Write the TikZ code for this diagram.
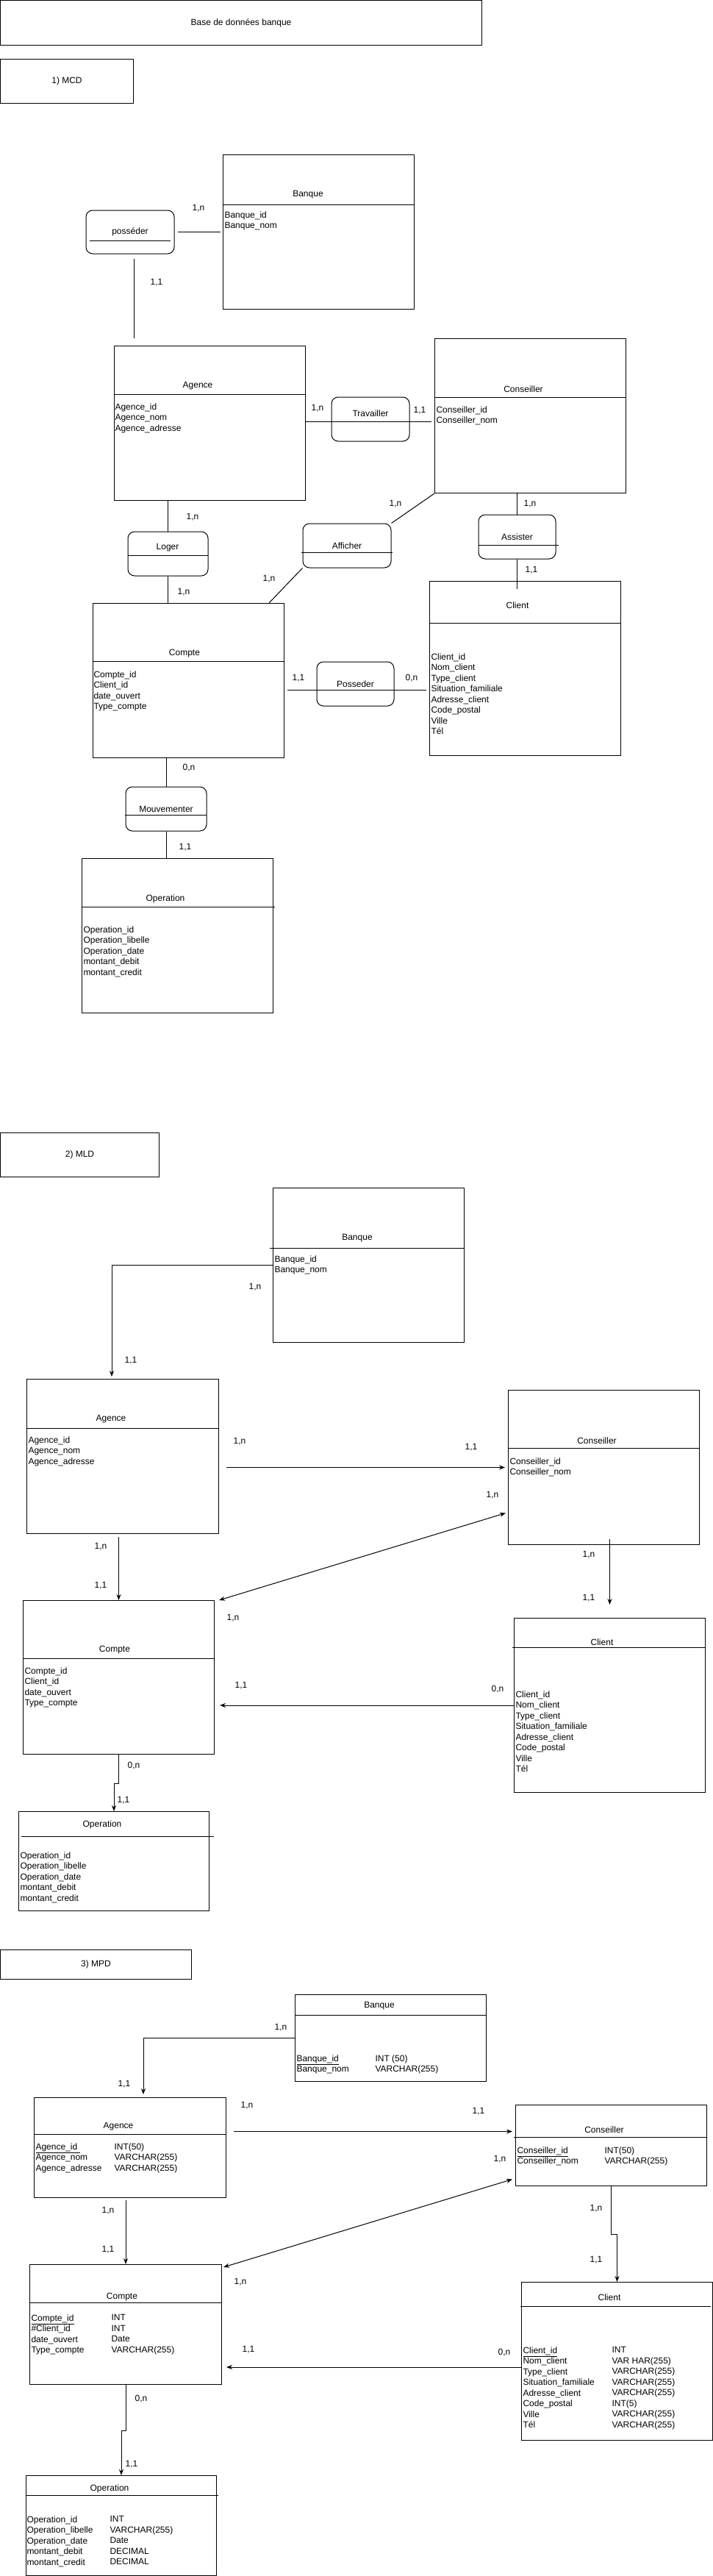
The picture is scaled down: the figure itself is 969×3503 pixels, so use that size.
\documentclass[tikz,border=0pt]{standalone}
\usepackage{fontspec}
\setmainfont{Liberation Sans}
\usetikzlibrary{arrows.meta}

\tikzset{
  entity/.style={draw, anchor=north west, inner sep=0pt},
  assoc/.style={draw, rounded corners=9pt, inner sep=0pt},
  attr/.style={anchor=north west, align=left, inner sep=0pt},
  arr/.style={-{Stealth[length=8pt,width=6pt]}},
  darr/.style={{Stealth[length=8pt,width=6pt]}-{Stealth[length=8pt,width=6pt]}}
}

\begin{document}
\begin{tikzpicture}[x=1pt, y=-1pt, line width=1pt, inner sep=0pt,
    font=\fontsize{12}{14.5}\selectfont]
  \useasboundingbox (0,0) rectangle (969,3503);

  \node[entity, minimum width=655pt, minimum height=61pt] (titre) at (0,0) {Base de données banque};
  \node[entity, minimum width=181pt, minimum height=60pt] (mcd) at (0,80) {1) MCD};

  % MCD
  \node[entity, minimum width=260pt, minimum height=210pt] (bqA) at (303,210) {};
  \draw (303,278) -- (563,278);
  \node (bqAnom) at (419,265) {Banque};
  \node[attr] (bqAatt) at (305,287) {Banque\_id\\Banque\_nom};

  \node[assoc, minimum width=120pt, minimum height=59pt] (poss) at (177,315.5) {posséder};
  \draw (122,327) -- (232,327);

  \node[entity, minimum width=260pt, minimum height=210pt] (agA) at (155,470) {};
  \draw (155,536) -- (415,536);
  \node (agAnom) at (269,525) {Agence};
  \node[attr] (agAatt) at (156,548) {Agence\_id\\Agence\_nom\\Agence\_adresse};

  \node[entity, minimum width=260pt, minimum height=210pt] (csA) at (591,460) {};
  \draw (591,540) -- (851,540);
  \node (csAnom) at (712,529) {Conseiller};
  \node[attr] (csAatt) at (593,552) {Conseiller\_id\\Conseiller\_nom};

  \node[assoc, minimum width=106pt, minimum height=60pt] (trav) at (504,570) {};
  \node (travnom) at (504,562) {Travailler};
  \node[assoc, minimum width=109pt, minimum height=60pt] (loger) at (228.5,753) {};
  \node (logernom) at (228,745) {Loger};
  \draw (174,755) -- (283,755);
  \node[assoc, minimum width=120pt, minimum height=60pt] (aff) at (472,742) {Afficher};
  \draw (410,751) -- (534,751);
  \node[assoc, minimum width=105pt, minimum height=60pt] (assist) at (703.5,730) {Assister};
  \draw (651,741) -- (760,741);

  \node[entity, minimum width=260pt, minimum height=237pt] (clA) at (584,790) {};
  \draw (584,847) -- (844,847);
  \node (clAnom) at (704,823) {Client};
  \node[attr] (clAatt) at (586,888) {Client\_id\\Nom\_client\\Type\_client\\Situation\_familiale\\Adresse\_client\\Code\_postal\\Ville\\Tél};

  \node[entity, minimum width=260pt, minimum height=210pt] (cpA) at (126,820) {};
  \draw (126,899) -- (386,899);
  \node (cpAnom) at (251,889) {Compte};
  \node[attr] (cpAatt) at (127,912) {Compte\_id\\Client\_id\\date\_ouvert\\Type\_compte};

  \node[assoc, minimum width=105pt, minimum height=60pt] (poss2) at (483.5,930) {Posseder};
  \node[assoc, minimum width=110pt, minimum height=60pt] (mouv) at (226,1100) {Mouvementer};
  \draw (170,1108) -- (281,1108);

  \node[entity, minimum width=260pt, minimum height=210pt] (opA) at (111,1167) {};
  \draw (111,1233) -- (374,1233);
  \node (opAnom) at (225,1222) {Operation};
  \node[attr] (opAatt) at (113,1259) {Operation\_id\\Operation\_libelle\\Operation\_date\\montant\_debit\\montant\_credit};

  \draw[shorten <=4pt, shorten >=3pt] (poss) -- (bqA);
  \draw[shorten <=6pt, shorten >=10pt] ([xshift=5pt]poss.south) -- ([xshift=5pt]poss.south |- agA.north);
  \draw ([yshift=-3pt]agA.east |- trav.center) -- ([xshift=-4pt,yshift=-3pt]csA.west |- trav.center);
  \draw (loger.north |- agA.south) -- (loger.north);
  \draw (loger.south) -- (loger.south |- cpA.north);
  \draw (aff.north east) -- (csA.south west);
  \draw (aff.south west) -- ([xshift=-21pt]cpA.north east);
  \draw (assist.north |- csA.south) -- (assist.north);
  \draw (assist.south) -- ([yshift=-11pt]assist.south |- clA.north);
  \draw[shorten <=4pt, shorten >=4pt] ([yshift=-8pt]cpA.east |- poss2.center) -- ([yshift=-8pt]clA.west |- poss2.center);
  \draw (mouv.north |- cpA.south) -- (mouv.north);
  \draw (mouv.south) -- (mouv.south |- opA.north);

  \node (ca1) at (270,283) {1,n};
  \node (ca2) at (213,384) {1,1};
  \node (ca3) at (432,555) {1,n};
  \node (ca4) at (571,558) {1,1};
  \node (ca5) at (262,703) {1,n};
  \node (ca6) at (250,805) {1,n};
  \node (ca7) at (538,685) {1,n};
  \node (ca8) at (366,787) {1,n};
  \node (ca9) at (721,685) {1,n};
  \node (ca10) at (723,775) {1,1};
  \node (ca11) at (406,922) {1,1};
  \node (ca12) at (560,922) {0,n};
  \node (ca13) at (257,1044) {0,n};
  \node (ca14) at (252,1152) {1,1};

  % MLD
  \node[entity, minimum width=216pt, minimum height=60pt] (mld) at (0,1540) {2) MLD};

  \node[entity, minimum width=260pt, minimum height=210pt] (bqB) at (371,1615) {};
  \draw (367,1697) -- (632,1697);
  \node (bqBnom) at (486,1684) {Banque};
  \node[attr] (bqBatt) at (373,1707) {Banque\_id\\Banque\_nom};

  \node[entity, minimum width=261pt, minimum height=210pt] (agB) at (36,1875) {};
  \draw (36,1942) -- (297,1942);
  \node (agBnom) at (151,1930) {Agence};
  \node[attr] (agBatt) at (38,1953) {Agence\_id\\Agence\_nom\\Agence\_adresse};

  \node[entity, minimum width=260pt, minimum height=210pt] (csB) at (691,1890) {};
  \draw (691,1969) -- (951,1969);
  \node (csBnom) at (812,1959) {Conseiller};
  \node[attr] (csBatt) at (693,1982) {Conseiller\_id\\Conseiller\_nom};

  \node[entity, minimum width=260pt, minimum height=209pt] (cpB) at (31,2176) {};
  \draw (31,2255) -- (291,2255);
  \node (cpBnom) at (156,2244) {Compte};
  \node[attr] (cpBatt) at (33,2267) {Compte\_id\\Client\_id\\date\_ouvert\\Type\_compte};

  \node[entity, minimum width=260pt, minimum height=237pt] (clB) at (699,2200) {};
  \draw (697,2240) -- (959,2240);
  \node (clBnom) at (819,2233) {Client};
  \node[attr] (clBatt) at (701,2299) {Client\_id\\Nom\_client\\Type\_client\\Situation\_familiale\\Adresse\_client\\Code\_postal\\Ville\\Tél};

  \node[entity, minimum width=259pt, minimum height=135pt] (opB) at (25,2463) {};
  \draw (29,2497) -- (291,2497);
  \node (opBnom) at (139,2481) {Operation};
  \node[attr] (opBatt) at (27,2518) {Operation\_id\\Operation\_libelle\\Operation\_date\\montant\_debit\\montant\_credit};

  \draw[arr] (bqB.west) -| ([xshift=-15pt,yshift=3pt]agB.north);
  \draw[arr] ([xshift=10pt]agB.east |- csB.west) -- ([xshift=-4pt]csB.west);
  \draw[darr] ([shift={(-3,62)}]csB.west) -- ([xshift=6pt]cpB.north east);
  \draw[arr] ([yshift=-4pt]cpB.north |- agB.south) -- (cpB.north);
  \draw[arr] ([yshift=8pt]clB.north |- csB.south) -- ([yshift=18pt]clB.north);
  \draw[arr] (clB.west) -- ([xshift=7pt]cpB.east |- clB.west);
  \draw[arr] (cpB.south) -- ++(0,39) -| (opB.north);

  \node (cb1) at (347,1750) {1,n};
  \node (cb2) at (178,1850) {1,1};
  \node (cb3) at (326,1960) {1,n};
  \node (cb4) at (641,1968) {1,1};
  \node (cb5) at (670,2033) {1,n};
  \node (cb6) at (317,2200) {1,n};
  \node (cb7) at (137,2103) {1,n};
  \node (cb8) at (137,2156) {1,1};
  \node (cb9) at (801,2114) {1,n};
  \node (cb10) at (801,2173) {1,1};
  \node (cb11) at (328,2292) {1,1};
  \node (cb12) at (677,2297) {0,n};
  \node (cb13) at (182,2401) {0,n};
  \node (cb14) at (168,2448) {1,1};

  % MPD
  \node[entity, minimum width=260pt, minimum height=40pt] (mpd) at (0,2651) {3) MPD};

  \node[entity, minimum width=260pt, minimum height=118pt] (bqC) at (401,2712) {};
  \draw (401,2740) -- (661,2740);
  \node (bqCnom) at (516,2728) {Banque};
  \node[attr] (bqCatt) at (403,2794) {\underline{Banque\_id}\\Banque\_nom};
  \node[attr] (bqCtyp) at (510,2794) {INT (50)\\VARCHAR(255)};

  \node[entity, minimum width=261pt, minimum height=136pt] (agC) at (46,2852) {};
  \draw (46,2902) -- (307,2902);
  \node (agCnom) at (161,2892) {Agence};
  \node[attr] (agCatt) at (48,2914) {\underline{Agence\_id\ }\\Agence\_nom\\Agence\_adresse};
  \node[attr] (agCtyp) at (155,2914) {INT(50)\\VARCHAR(255)\\VARCHAR(255)};

  \node[entity, minimum width=260pt, minimum height=110pt] (csC) at (701,2862) {};
  \draw (699,2906) -- (961,2906);
  \node (csCnom) at (822,2896) {Conseiller};
  \node[attr] (csCatt) at (703,2919) {\underline{Conseiller\_id}\\Conseiller\_nom};
  \node[attr] (csCtyp) at (822,2919) {INT(50)\\VARCHAR(255)};

  \node[entity, minimum width=261pt, minimum height=163pt] (cpC) at (40,3079) {};
  \draw (40,3131) -- (301,3131);
  \node (cpCnom) at (166,3124) {Compte};
  \node[attr] (cpCatt) at (42,3147) {\underline{Compte\_id}\\\#Client\_id\\date\_ouvert\\Type\_compte};
  \node[attr] (cpCtyp) at (151,3147) {INT\\INT\\Date\\VARCHAR(255)};

  \node[entity, minimum width=260pt, minimum height=215pt] (clC) at (709,3103) {};
  \draw (708,3136) -- (967,3136);
  \node (clCnom) at (829,3124) {Client};
  \node[attr] (clCatt) at (711,3191) {\underline{Client\_id}\\Nom\_client\\Type\_client\\Situation\_familiale\\Adresse\_client\\Code\_postal\\Ville\\Tél};
  \node[attr] (clCtyp) at (832,3191) {INT\\VAR HAR(255)\\VARCHAR(255)\\VARCHAR(255)\\VARCHAR(255)\\INT(5)\\VARCHAR(255)\\VARCHAR(255)};

  \node[entity, minimum width=259pt, minimum height=136pt] (opC) at (35,3366) {};
  \draw (35,3393) -- (297,3393);
  \node (opCnom) at (149,3384) {Operation};
  \node[attr] (opCatt) at (36,3421) {Operation\_id\\Operation\_libelle\\Operation\_date\\montant\_debit\\montant\_credit};
  \node[attr] (opCtyp) at (149,3421) {INT\\VARCHAR(255)\\Date\\DECIMAL\\DECIMAL};

  \draw[arr] (bqC.west) -| ([xshift=18pt,yshift=4pt]agC.north);
  \coordinate (cs1) at ([shift={(-4,-19)}]csC.west);
  \draw[arr] ([xshift=10pt]agC.east |- cs1) -- (cs1);
  \draw[darr] ([shift={(-4,46)}]csC.west) -- ([shift={(2,4)}]cpC.north east);
  \draw[arr] ([yshift=-3pt]cpC.north |- agC.south) -- (cpC.north);
  \draw[arr] (csC.south) -- ++(0,65) -| (clC.north);
  \draw[arr] ([yshift=-8pt]clC.west) -- ([xshift=6pt,yshift=-8pt]cpC.east |- clC.west);
  \draw[arr] (cpC.south) -- ++(0,62) -| (opC.north);

  \node (cc1) at (382,2757) {1,n};
  \node (cc2) at (169,2834) {1,1};
  \node (cc3) at (336,2863) {1,n};
  \node (cc4) at (651,2871) {1,1};
  \node (cc5) at (680,2936) {1,n};
  \node (cc6) at (327,3103) {1,n};
  \node (cc7) at (147,3006) {1,n};
  \node (cc8) at (147,3059) {1,1};
  \node (cc9) at (811,3003) {1,n};
  \node (cc10) at (811,3073) {1,1};
  \node (cc11) at (338,3195) {1,1};
  \node (cc12) at (686,3199) {0,n};
  \node (cc13) at (192,3262) {0,n};
  \node (cc14) at (179,3351) {1,1};
\end{tikzpicture}
\end{document}
